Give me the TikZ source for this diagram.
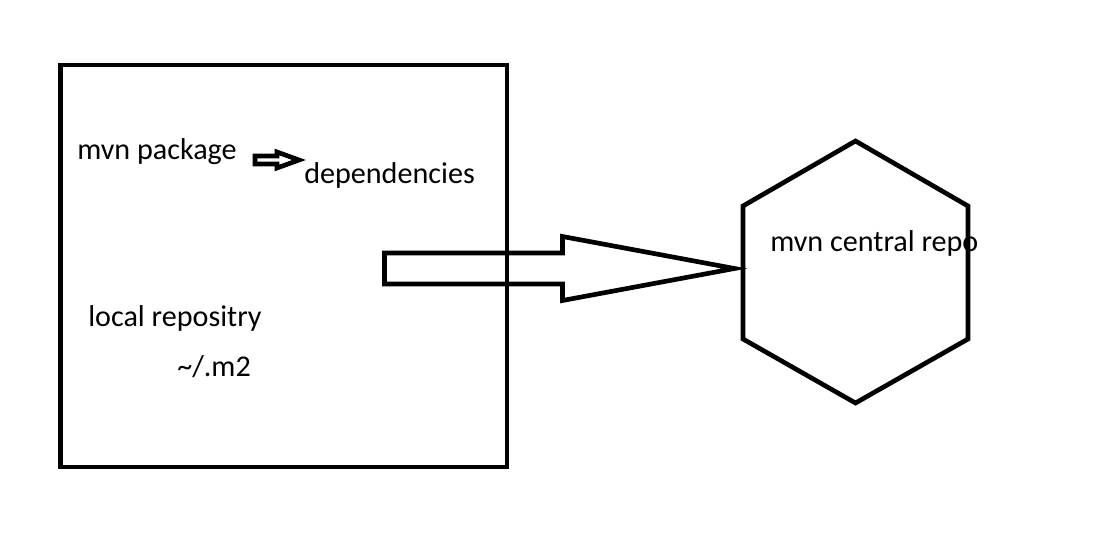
\documentclass[tikz,border=0pt]{standalone}
\usepackage{fontspec}
\setmainfont{Carlito}
\usepackage{tikz}
\tikzset{>=latex}
\usetikzlibrary{calc}
\tikzset{
    outline/.style={line width=3.5pt, line join=miter},
    txt/.style={anchor=base west, inner sep=0pt, font=\fontsize{22.6}{27}\selectfont}
}

\begin{document}
\begin{tikzpicture}[x=0.75pt, y=-0.75pt]
    \useasboundingbox (0,0) rectangle (1107,535);

    \coordinate (B1) at (60.5,65);
    \coordinate (B2) at (507,467);
    \coordinate (S) at (255,160);
    \coordinate (A) at (384.5,268.5);
    \coordinate (H) at (855.5,272);

    % Texts
    \node[txt] (mvnpkg) at (77,159) {mvn package};
    \node[txt] (deps) at (304,183) {dependencies};
    \node[txt] (localrepo) at (88,326) {local repositry};
    \node[txt] (mtwo) at (177,376) {\textasciitilde/.m2};
    \node[txt] (central) at (770,251) {mvn central repo};

    % Local repository box
    \draw[outline] (B1) rectangle (B2);

    % Small arrow
    \begin{scope}[shift={(S)}]
        \draw[outline] (0,-4) -- (22,-4) -- (22,-8) -- (44,0) -- (22,8) -- (22,4) -- (0,4) -- cycle;
    \end{scope}

    % Big arrow
    \begin{scope}[shift={(A)}]
        \draw[outline] (0,-15.5) -- (178,-15.5) -- (178,-32) -- (350,0) -- (178,32) -- (178,15.5) -- (0,15.5) -- cycle;
    \end{scope}

    % Central repo hexagon
    \begin{scope}[shift={(H)}]
        \draw[outline] (0,-131) -- (112.5,-66) -- (112.5,67) -- (0,131) -- (-112.5,67) -- (-112.5,-66) -- cycle;
    \end{scope}
\end{tikzpicture}
\end{document}
